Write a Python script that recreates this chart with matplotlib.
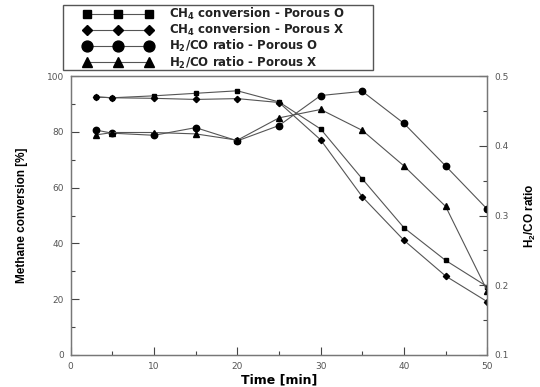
import numpy as np
import matplotlib
matplotlib.use('Agg')
import matplotlib.pyplot as plt
from matplotlib.patches import Rectangle
from matplotlib.ticker import MultipleLocator

#%% data
time = [3, 5, 10, 15, 20, 25, 30, 35, 40, 45, 50]
ch4_porous_o = [92.5, 92.2, 92.9, 93.8, 94.7, 90.7, 81.0, 63.1, 45.6, 33.9, 24.5]
ch4_porous_x = [92.5, 92.2, 92.0, 91.6, 91.9, 90.5, 77.1, 56.7, 41.1, 28.3, 19.1]
h2co_porous_o = [0.4225, 0.418, 0.415, 0.426, 0.407, 0.429, 0.472, 0.478, 0.432, 0.371, 0.309]
h2co_porous_x = [0.4155, 0.419, 0.419, 0.417, 0.408, 0.440, 0.452, 0.422, 0.371, 0.313, 0.192]

labels = ['CH$_4$ conversion - Porous O', 'CH$_4$ conversion - Porous X',
          'H$_2$/CO ratio - Porous O', 'H$_2$/CO ratio - Porous X']

#%% style
plt.rcParams['font.family'] = ['DejaVu Sans']
plt.rcParams['mathtext.default'] = 'regular'
narrow = ['Liberation Sans', 'DejaVu Sans']
line_c = '#555555'
tick_c = '#444444'
lw = 0.8

fig = plt.figure(figsize=(5.4, 3.87), dpi=100)
ax = fig.add_axes([0.131, 0.0827, 0.7714, 0.7209])
ax2 = ax.twinx()

l1, = ax.plot(time, ch4_porous_o, color=line_c, lw=lw, marker='s', ms=3.3,
              mfc='k', mec='k')
l2, = ax.plot(time, ch4_porous_x, color=line_c, lw=lw, marker='D', ms=3.2,
              mfc='k', mec='k')
l3, = ax2.plot(time, h2co_porous_o, color=line_c, lw=lw, marker='o', ms=4.6,
               mfc='k', mec='k')
l4, = ax2.plot(time, h2co_porous_x, color=line_c, lw=lw, marker='^', ms=4.2,
               mfc='k', mec='k')

ax.set_xlim(0, 50)
ax.set_ylim(0, 100)
ax2.set_ylim(0.1, 0.5)

ax.xaxis.set_major_locator(MultipleLocator(10))
ax.xaxis.set_minor_locator(MultipleLocator(5))
ax.yaxis.set_major_locator(MultipleLocator(20))
ax.yaxis.set_minor_locator(MultipleLocator(10))
ax2.yaxis.set_major_locator(MultipleLocator(0.1))
ax2.yaxis.set_minor_locator(MultipleLocator(0.05))

for a in (ax, ax2):
    a.tick_params(which='both', direction='in', colors=tick_c, labelsize=6.5,
                  width=0.8, labelcolor='#555555')
    a.tick_params(which='major', length=6, pad=5)
    a.tick_params(which='minor', length=3)
    for s in a.spines.values():
        s.set_color('#777777')
        s.set_linewidth(0.9)

ax.set_xlabel('Time [min]', fontsize=9, fontweight='bold', labelpad=2)
ax.set_ylabel('Methane conversion [%]', fontsize=8.5, fontweight='bold',
              family=narrow, labelpad=13)
ax2.set_ylabel('H$_2$/CO ratio', fontsize=8.5, fontweight='bold',
               family=narrow, labelpad=10)

# legend frame drawn separately so the entries can sit where they do in the original
fig.patches.append(Rectangle((0.1167, 0.8191), 0.574, 0.168,
                             transform=fig.transFigure, fill=False,
                             edgecolor='#555555', lw=1.0))
leg = fig.legend([l1, l2, l3, l4], labels, loc='upper left',
                 bbox_to_anchor=(0.1540, 0.984),
                 numpoints=3, markerscale=1.7, handlelength=5.9,
                 fontsize=8.5, frameon=False,
                 borderaxespad=0, labelspacing=0.0, handletextpad=1.35,
                 borderpad=0)
for t in leg.get_texts():
    t.set_fontweight('bold')
    t.set_color('#222222')

plt.savefig('out.png', dpi=100)
